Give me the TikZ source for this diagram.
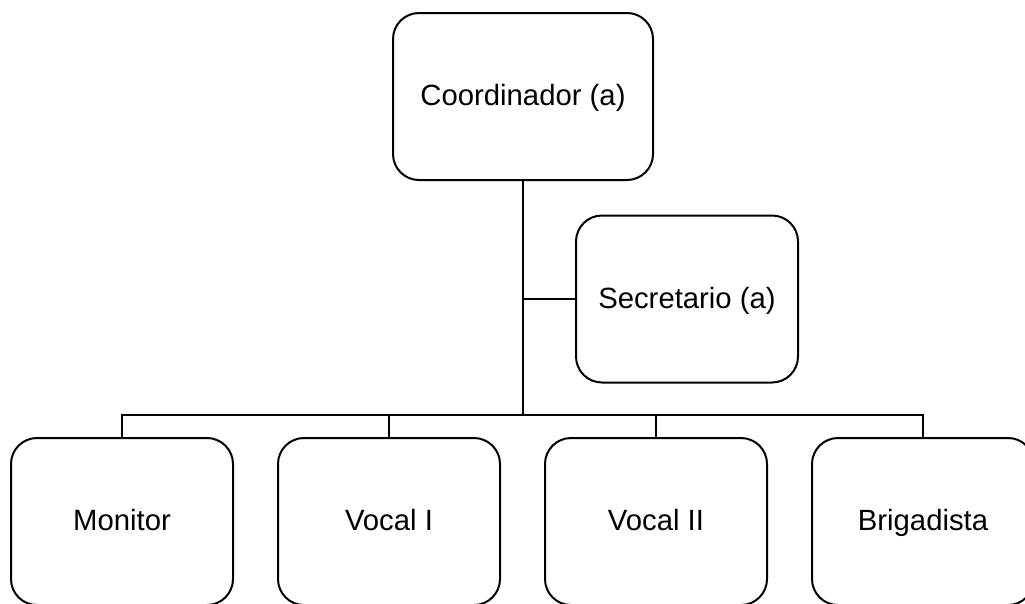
\documentclass[tikz,border=0pt]{standalone}
\usepackage{fontspec}
\setmainfont{Liberation Sans}
\begin{document}
\begin{tikzpicture}[x=1pt,y=-1pt,
  box/.style={draw, line width=2pt, rounded corners=26pt, minimum width=222pt, minimum height=167pt, inner sep=0pt, align=center, text height=21pt, text depth=3pt, font=\fontsize{29.3}{35}\selectfont},
  link/.style={line width=2pt}]
\useasboundingbox (0,0) rectangle (1025,603);
\clip (0,0) rectangle (1025,603);
\node[box, minimum width=260pt] (coord) at (523,96.5) {Coordinador (a)};
\node[box] (sec) at (687,299) {Secretario (a)};
\node[box] (mon) at (122,521.5) {Monitor};
\node[box] (v1) at (389,521.5) {Vocal I};
\node[box] (v2) at (656,521.5) {Vocal II};
\node[box] (bri) at (923,521.5) {Brigadista};
\coordinate (bus) at (523,415);
\draw[link] (coord.south) -- (bus);
\draw[link] (coord.south |- sec.west) -- (sec.west);
\draw[link] (mon.north) -- (mon.north |- bus) -- (bri.north |- bus) -- (bri.north);
\draw[link] (v1.north) -- (v1.north |- bus);
\draw[link] (v2.north) -- (v2.north |- bus);
\end{tikzpicture}
\end{document}
